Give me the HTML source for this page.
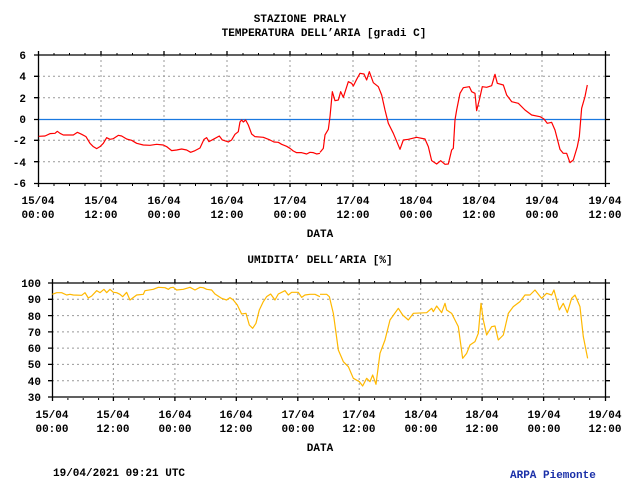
<!DOCTYPE html>
<html><head><style>
body{margin:0;background:#fff;}
svg{display:block;}
text{font-family:"Liberation Mono",monospace;font-weight:bold;font-size:11px;fill:#000;}
.g{stroke:#999;stroke-width:1;stroke-dasharray:2,3;fill:none;}
.d{fill:none;stroke-width:1.2;vector-effect:non-scaling-stroke;stroke-linejoin:round;}
</style></head><body>
<svg width="640" height="480" viewBox="0 0 640 480">
<text x="300" y="22" text-anchor="middle">STAZIONE PRALY</text>
<text x="324" y="36" text-anchor="middle">TEMPERATURA DELL’ARIA [gradi C]</text>

<g class="g">
<path d="M38 76.3H605M38 97.7H605M38 140.3H605M38 161.7H605"/>
<path d="M101 55V183M164 55V183M227 55V183M290 55V183M353 55V183M416 55V183M479 55V183M542 55V183"/>
</g>
<path d="M38 119.5H605" stroke="#1a78e0" stroke-width="1.3"/>
<g stroke="#000" stroke-width="1.3" fill="none">
<path d="M38.5 55V183.5H605.5V55H38.5"/>
<path d="M38.5 51V55M101 51V55M164 51V55M227 51V55M290 51V55M353 51V55M416 51V55M479 51V55M542 51V55M605.5 51V55"/>
<path d="M38.5 183V187M101 183V187M164 183V187M227 183V187M290 183V187M353 183V187M416 183V187M479 183V187M542 183V187M605.5 183V187"/>
<path d="M34 55H38M34 76.3H38M34 97.7H38M34 119.5H38M34 140.3H38M34 161.7H38M34 183.5H38M605 55H610M605 76.3H610M605 97.7H610M605 119.5H610M605 140.3H610M605 161.7H610M605 183.5H610"/>
</g>
<g stroke="#000" stroke-width="1">
<path d="M54 53V55M69.5 53V55M85 53V55M117 53V55M132.5 53V55M148 53V55M180 53V55M195.5 53V55M211 53V55M243 53V55M258.5 53V55M274 53V55M306 53V55M321.5 53V55M337 53V55M369 53V55M384.5 53V55M400 53V55M432 53V55M447.5 53V55M463 53V55M495 53V55M510.5 53V55M526 53V55M558 53V55M573.5 53V55M589 53V55"/>
<path d="M54 184V186M69.5 184V186M85 184V186M117 184V186M132.5 184V186M148 184V186M180 184V186M195.5 184V186M211 184V186M243 184V186M258.5 184V186M274 184V186M306 184V186M321.5 184V186M337 184V186M369 184V186M384.5 184V186M400 184V186M432 184V186M447.5 184V186M463 184V186M495 184V186M510.5 184V186M526 184V186M558 184V186M573.5 184V186M589 184V186"/>
</g>
<g text-anchor="end">
<text x="26" y="59">6</text><text x="26" y="80">4</text><text x="26" y="102">2</text><text x="26" y="123">0</text><text x="26" y="144">-2</text><text x="26" y="166">-4</text><text x="26" y="187">-6</text>
</g>
<g text-anchor="middle">
<text x="38" y="204">15/04</text><text x="38" y="218">00:00</text>
<text x="101" y="204">15/04</text><text x="101" y="218">12:00</text>
<text x="164" y="204">16/04</text><text x="164" y="218">00:00</text>
<text x="227" y="204">16/04</text><text x="227" y="218">12:00</text>
<text x="290" y="204">17/04</text><text x="290" y="218">00:00</text>
<text x="353" y="204">17/04</text><text x="353" y="218">12:00</text>
<text x="416" y="204">18/04</text><text x="416" y="218">00:00</text>
<text x="479" y="204">18/04</text><text x="479" y="218">12:00</text>
<text x="542" y="204">19/04</text><text x="542" y="218">00:00</text>
<text x="605" y="204">19/04</text><text x="605" y="218">12:00</text>
<text x="320" y="237">DATA</text>
</g>
<g transform="translate(0,40) scale(0.3333)">
<polyline class="d" stroke="#f00" points="116,289 135,288 150,281 165,280 172,274 180,280 190,285 220,285 232,277 245,283 258,290 270,310 280,320 290,326 300,320 310,310 320,293 330,298 340,296 355,286 365,288 380,297 395,301 410,310 430,315 450,316 470,313 490,315 500,320 515,332 530,330 545,327 560,330 572,337 585,332 600,324 612,298 620,293 627,305 640,298 658,288 667,300 685,306 695,300 705,283 715,275 720,246 725,240 730,246 737,240 745,255 755,282 765,290 790,292 810,300 822,306 835,307 845,313 860,319 870,325 880,333 890,338 905,338 920,342 930,337 940,338 950,342 960,340"/>
</g>
<g transform="translate(320,40) scale(0.3333)">
<polyline class="d" stroke="#f00" points="0,337 10,325 15,285 25,268 30,230 37,155 45,182 55,180 62,155 70,172 85,125 95,130 100,138 110,118 120,100 132,102 140,120 148,95 160,128 175,140 185,165 195,210 205,250 220,280 240,328 250,300 265,298 290,292 315,297 325,320 335,362 350,372 362,362 375,373 385,372 395,330 400,325 405,240 410,210 420,160 430,143 448,140 455,155 465,160 470,212 478,180 487,140 500,142 515,137 525,103 532,130 550,135 560,165 575,185 595,190 615,210 635,225 660,230 672,237 682,250 695,247 705,270 720,328 730,340 740,340 750,368 760,360 772,320 778,290 785,205 795,170 802,135"/>
</g>

<text x="320" y="263" text-anchor="middle">UMIDITA’ DELL’ARIA [%]</text>
<g class="g">
<path d="M52 299.3H605M52 315.6H605M52 331.9H605M52 348.1H605M52 364.4H605M52 380.7H605"/>
<path d="M113.4 283V397M174.9 283V397M236.3 283V397M297.8 283V397M359.2 283V397M420.7 283V397M482.1 283V397M543.6 283V397"/>
</g>
<g stroke="#000" stroke-width="1.3" fill="none">
<path d="M52.5 283V397H605.5V283H52.5"/>
<path d="M52.5 279V283M113.4 279V283M174.9 279V283M236.3 279V283M297.8 279V283M359.2 279V283M420.7 279V283M482.1 279V283M543.6 279V283M605.5 279V283"/>
<path d="M52.5 397V401M113.4 397V401M174.9 397V401M236.3 397V401M297.8 397V401M359.2 397V401M420.7 397V401M482.1 397V401M543.6 397V401M605.5 397V401"/>
<path d="M48 283H52M48 299.3H52M48 315.6H52M48 331.9H52M48 348.1H52M48 364.4H52M48 380.7H52M48 397H52M605 283H610M605 299.3H610M605 315.6H610M605 331.9H610M605 348.1H610M605 364.4H610M605 380.7H610M605 397H610"/>
</g>
<g stroke="#000" stroke-width="1">
<path d="M67.9 281V283M83.2 281V283M98.6 281V283M128.8 281V283M144.1 281V283M159.5 281V283M190.3 281V283M205.6 281V283M221 281V283M251.7 281V283M267 281V283M282.4 281V283M313.2 281V283M328.5 281V283M343.9 281V283M374.6 281V283M390 281V283M405.3 281V283M436.1 281V283M451.4 281V283M466.8 281V283M497.5 281V283M512.9 281V283M528.2 281V283M559 281V283M574.3 281V283M589.7 281V283"/>
<path d="M67.9 398V400M83.2 398V400M98.6 398V400M128.8 398V400M144.1 398V400M159.5 398V400M190.3 398V400M205.6 398V400M221 398V400M251.7 398V400M267 398V400M282.4 398V400M313.2 398V400M328.5 398V400M343.9 398V400M374.6 398V400M390 398V400M405.3 398V400M436.1 398V400M451.4 398V400M466.8 398V400M497.5 398V400M512.9 398V400M528.2 398V400M559 398V400M574.3 398V400M589.7 398V400"/>
</g>
<g text-anchor="end">
<text x="41" y="287">100</text><text x="41" y="303">90</text><text x="41" y="320">80</text><text x="41" y="336">70</text><text x="41" y="352">60</text><text x="41" y="368">50</text><text x="41" y="385">40</text><text x="41" y="401">30</text>
</g>
<g text-anchor="middle">
<text x="52" y="418">15/04</text><text x="52" y="432">00:00</text>
<text x="113" y="418">15/04</text><text x="113" y="432">12:00</text>
<text x="175" y="418">16/04</text><text x="175" y="432">00:00</text>
<text x="236" y="418">16/04</text><text x="236" y="432">12:00</text>
<text x="298" y="418">17/04</text><text x="298" y="432">00:00</text>
<text x="359" y="418">17/04</text><text x="359" y="432">12:00</text>
<text x="421" y="418">18/04</text><text x="421" y="432">00:00</text>
<text x="482" y="418">18/04</text><text x="482" y="432">12:00</text>
<text x="544" y="418">19/04</text><text x="544" y="432">00:00</text>
<text x="605" y="418">19/04</text><text x="605" y="432">12:00</text>
<text x="320" y="451">DATA</text>
</g>
<g transform="translate(0,270) scale(0.3333)">
<polyline class="d" stroke="#ffb800" points="157,73 170,68 185,68 200,75 210,73 220,75 245,76 255,68 265,84 275,78 290,62 300,68 312,58 320,68 330,58 340,67 350,68 360,73 368,80 380,67 390,90 410,75 430,73 435,62 460,58 475,52 495,53 505,58 512,53 520,52 530,60 550,58 570,52 585,60 600,52 610,53 620,58 635,60 645,72 665,85 680,90 690,83 700,90 712,105 725,132 738,130 748,165 758,175 768,160 778,120 790,95 800,80 812,72 825,90 835,72 855,62 865,75 875,67 895,67 905,82 915,75 930,73 945,73 960,80"/>
</g>
<g transform="translate(320,270) scale(0.3333)">
<polyline class="d" stroke="#ffb800" points="0,73 20,73 28,80 40,130 55,240 70,275 85,290 100,325 118,335 128,348 140,325 150,335 158,315 168,343 180,250 195,210 210,150 235,115 248,135 265,150 280,130 320,128 335,115 340,125 350,108 365,128 375,100 380,120 395,130 405,150 415,170 428,265 440,250 450,225 465,215 475,190 483,100 490,150 500,195 515,170 525,168 535,210 550,195 565,130 580,110 600,95 615,75 630,75 645,60 665,85 680,70 695,75 702,60 718,120 730,100 742,128 755,85 765,75 780,110 790,200 803,265"/>
</g>
<text x="53" y="476">19/04/2021 09:21 UTC</text>
<text x="510" y="478" style="fill:#1a2fa8">ARPA Piemonte</text>
</svg>
</body></html>
